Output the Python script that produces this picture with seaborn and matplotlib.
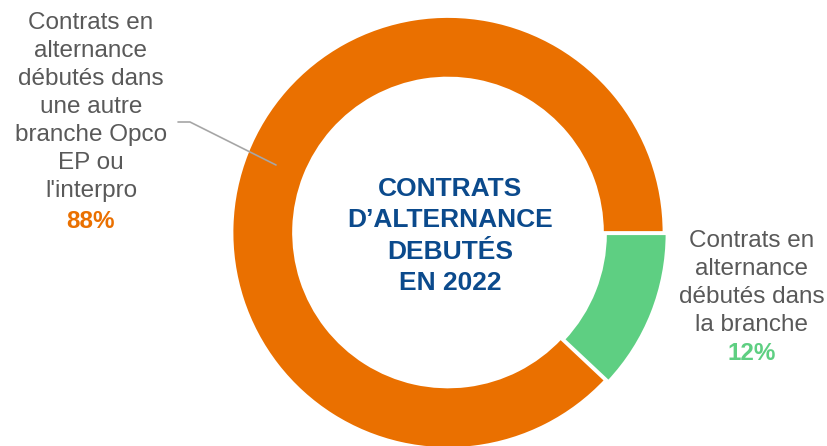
import numpy as np
import matplotlib
matplotlib.use("Agg")
import matplotlib.pyplot as plt
import seaborn as sns

# Data
categories = ["Contrats en\nalternance\ndébutés dans\nla branche",
              "Contrats en\nalternance\ndébutés dans\nune autre\nbranche Opco\nEP ou\nl'interpro"]
shares = [12, 88]
pct_labels = ["12%", "88%"]
center_title = "CONTRATS\nD\u2019ALTERNANCE\nDEBUTÉS\nEN 2022"

green = "#5ECF82"
orange = "#EA7000"
gray_txt = "#595959"
navy = "#0B4A8C"

sns.set_theme(style="white")
plt.rcParams['font.family'] = ['Liberation Sans', 'DejaVu Sans']

fig = plt.figure(figsize=(8.28, 4.46), dpi=100)
ax = fig.add_axes([0, 0, 1, 1])

# 1 data unit = 216 px, pie centre at (448, 232) px from top-left
scale = 216.0
cx, cy = 448.0, 232.5

ax.pie(shares, colors=[green, orange], startangle=0, counterclock=False,
       radius=1, explode=[0.015, 0],
       wedgeprops=dict(width=0.285, edgecolor="white", linewidth=2))
ax.set_xlim(-cx / scale, (828 - cx) / scale)
ax.set_ylim(-(446 - cy) / scale, cy / scale)
ax.set_aspect("auto")
ax.axis("off")


def px(x, y):
    return (x - cx) / scale, (cy - y) / scale


# Centre title
ax.text(*px(450, 236), center_title, ha="center", va="center",
        fontsize=19, fontweight="bold", color=navy, linespacing=1.37)

# Left label (88%)
ax.text(*px(91, 107), categories[1], ha="center", va="center",
        fontsize=17.5, color=gray_txt, linespacing=1.35)
ax.text(*px(91, 222), pct_labels[1], ha="center", va="center",
        fontsize=17.5, fontweight="bold", color=orange)

# Right label (12%)
ax.text(*px(752, 283), categories[0], ha="center", va="center",
        fontsize=17.5, color=gray_txt, linespacing=1.35)
ax.text(*px(752, 353), pct_labels[0], ha="center", va="center",
        fontsize=17.5, fontweight="bold", color=green)

# Leader line from the orange ring to the left label
ring_pt = px(276, 165)
elbow = px(190, 122)
start = px(178, 122)
ax.plot([start[0], elbow[0], ring_pt[0]], [start[1], elbow[1], ring_pt[1]],
        color="#A6A6A6", linewidth=1.2)

fig.savefig("out.png", dpi=100)
